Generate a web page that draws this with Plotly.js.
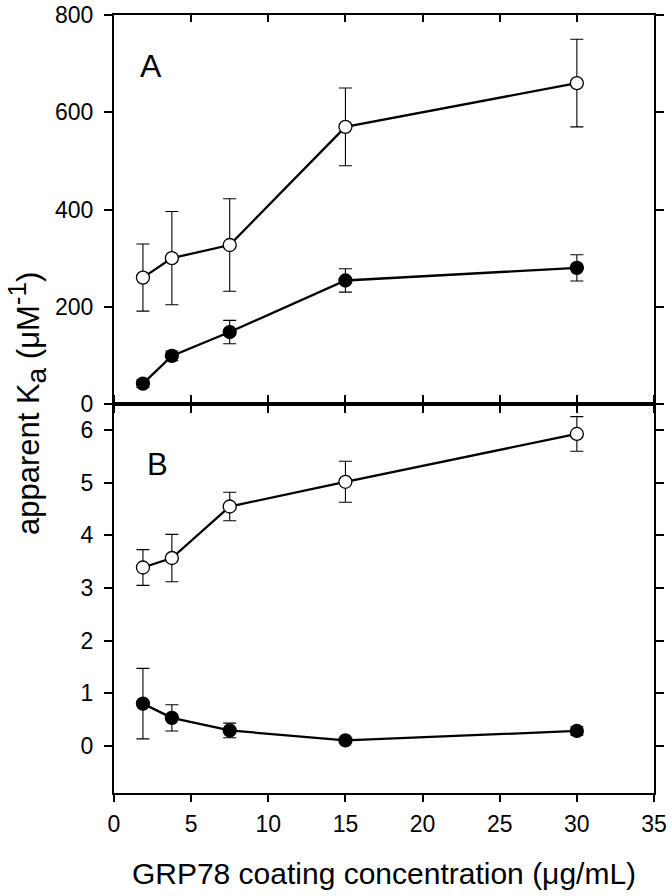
<!DOCTYPE html>
<html>
<head>
<meta charset="utf-8">
<script src="https://cdn.plot.ly/plotly-3.0.1.min.js"></script>
<style>html,body{margin:0;padding:0;background:#fff}#chart{width:672px;height:896px}</style>
</head>
<body>
<div id="chart"></div>
<script>
// GRP78 coating concentration (µg/mL)
const conc = [1.875, 3.75, 7.5, 15, 30];

// Panel A
const aOpen = [260, 300, 327, 570, 660];
const aOpenErr = [69, 96, 95, 80, 90];
const aFilled = [42, 99, 148, 254, 280];
const aFilledErr = [8, 10, 24, 24, 27];

// Panel B
const bOpen = [3.39, 3.57, 4.55, 5.02, 5.93];
const bOpenErr = [0.34, 0.45, 0.27, 0.39, 0.33];
const bFilled = [0.80, 0.53, 0.29, 0.10, 0.28];
const bFilledErr = [0.67, 0.25, 0.14, 0.04, 0.08];

const xTicks = [0, 5, 10, 15, 20, 25, 30, 35];
const aTicks = [0, 200, 400, 600, 800];
const bTicks = [0, 1, 2, 3, 4, 5, 6];

const FONT = 'Liberation Sans, Arial, sans-serif';
const TICKFONT = {family: FONT, size: 23, color: '#000'};

function series(y, err, filled, xa, ya) {
  return {
    x: conc, y: y, xaxis: xa, yaxis: ya, type: 'scatter', mode: 'lines+markers',
    showlegend: false, hoverinfo: 'skip',
    line: {color: '#000', width: 2.3},
    marker: {symbol: 'circle', size: 13, color: filled ? '#000' : '#fff',
             line: {color: '#000', width: 1.3}},
    error_y: {type: 'data', array: err, visible: true, color: '#000', thickness: 1.1, width: 6.5}
  };
}

const data = [
  series(aFilled, aFilledErr, true, 'x2', 'y'),
  series(aOpen, aOpenErr, false, 'x2', 'y'),
  series(bFilled, bFilledErr, true, 'x', 'y2'),
  series(bOpen, bOpenErr, false, 'x', 'y2'),
  {x: [], y: [], xaxis: 'x3', yaxis: 'y', showlegend: false, hoverinfo: 'skip'},
  {x: [], y: [], xaxis: 'x4', yaxis: 'y2', showlegend: false, hoverinfo: 'skip'}
];

const xBase = {range: [0, 35], tickvals: xTicks, showline: true, linecolor: '#000', linewidth: 2,
  ticklen: 7, tickwidth: 2, tickcolor: '#000', showgrid: false, zeroline: false, fixedrange: true};
const yBase = {ticks: 'outside', ticklen: 8, tickwidth: 2, tickcolor: '#000', showline: true,
  linecolor: '#000', linewidth: 2, mirror: 'ticks', showgrid: false, zeroline: false,
  tickfont: TICKFONT, ticklabelstandoff: 6, fixedrange: true};

const layout = {
  width: 672, height: 896,
  margin: {l: 114, r: 18, t: 15, b: 103},
  paper_bgcolor: '#fff', plot_bgcolor: '#fff',
  font: {family: FONT, color: '#000', size: 23},
  showlegend: false,
  xaxis: Object.assign({}, xBase, {anchor: 'y2', side: 'bottom', ticks: 'outside',
    showticklabels: true, tickfont: TICKFONT, ticklabelstandoff: 2,
    title: {text: 'GRP78 coating concentration (\u03bcg/mL)', font: {family: FONT, size: 30, color: '#000'}, standoff: 27}}),
  xaxis2: Object.assign({}, xBase, {anchor: 'y', side: 'bottom', ticks: 'outside', showticklabels: false}),
  xaxis3: Object.assign({}, xBase, {anchor: 'y', side: 'top', overlaying: 'x2', ticks: 'inside', showticklabels: false}),
  xaxis4: Object.assign({}, xBase, {anchor: 'y2', side: 'top', overlaying: 'x', ticks: 'outside', showticklabels: false}),
  yaxis: Object.assign({}, yBase, {domain: [0.5, 1], anchor: 'x2', range: [0, 800], tickvals: aTicks}),
  yaxis2: Object.assign({}, yBase, {domain: [0, 0.5], anchor: 'x', range: [-0.9, 6.5], tickvals: bTicks}),
  annotations: [
    {text: 'apparent K<sub><span style="font-size:28px">a</span></sub> (\u03bcM<sup><span style="font-size:26px">-1</span></sup>)',
     xref: 'paper', yref: 'paper', x: -0.161, y: 0.5,
     textangle: -90, showarrow: false, font: {family: FONT, size: 31, color: '#000'}, xanchor: 'center', yanchor: 'middle'},
    {text: 'A', xref: 'paper', yref: 'paper', x: 0.0685, y: 0.934, showarrow: false,
     font: {family: FONT, size: 32, color: '#000'}, xanchor: 'center', yanchor: 'middle'},
    {text: 'B', xref: 'paper', yref: 'paper', x: 0.0806, y: 0.4216, showarrow: false,
     font: {family: FONT, size: 31, color: '#000'}, xanchor: 'center', yanchor: 'middle'}
  ]
};

Plotly.newPlot('chart', data, layout, {displayModeBar: false, staticPlot: true});
</script>
</body>
</html>
